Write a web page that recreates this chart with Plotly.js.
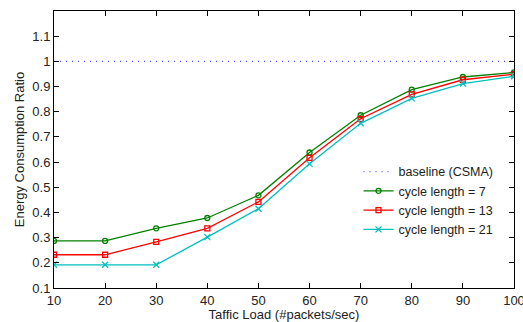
<!DOCTYPE html>
<html><head><meta charset="utf-8">
<script src="https://cdn.plot.ly/plotly-3.0.1.min.js"></script>
<style>body{margin:0;padding:0;background:#fff}#c{width:523px;height:322px}</style>
</head><body><div id="c"></div>
<script>
var load = [10, 20, 30, 40, 50, 60, 70, 80, 90, 100];
var baseline = [1, 1, 1, 1, 1, 1, 1, 1, 1, 1];
var cycle7 = [0.287, 0.287, 0.337, 0.378, 0.468, 0.638, 0.786, 0.888, 0.938, 0.956];
var cycle13 = [0.232, 0.232, 0.283, 0.337, 0.442, 0.617, 0.772, 0.869, 0.927, 0.949];
var cycle21 = [0.192, 0.192, 0.192, 0.302, 0.415, 0.593, 0.754, 0.853, 0.912, 0.941];
var names = ['baseline (CSMA)', 'cycle length = 7', 'cycle length = 13', 'cycle length = 21'];
var yticks = [0.1, 0.2, 0.3, 0.4, 0.5, 0.6, 0.7, 0.8, 0.9, 1, 1.1];

var traces = [
  {x: load, y: baseline, name: names[0], mode: 'lines',
   line: {color: '#4d4dff', width: 1.2, dash: '1px,5px'}},
  {x: load, y: cycle7, name: names[1], mode: 'lines+markers',
   line: {color: '#008000', width: 1.3},
   marker: {symbol: 'circle-open', size: 5, color: '#008000', line: {width: 1.3}}},
  {x: load, y: cycle13, name: names[2], mode: 'lines+markers',
   line: {color: '#ff0000', width: 1.3},
   marker: {symbol: 'square-open', size: 5, color: '#ff0000', line: {width: 1.3}}},
  {x: load, y: cycle21, name: names[3], mode: 'lines+markers',
   line: {color: '#00bfbf', width: 1.3},
   marker: {symbol: 'x-thin-open', size: 6, color: '#00bfbf', line: {width: 1.3, color: '#00bfbf'}}}
];

var layout = {
  width: 523, height: 322,
  margin: {l: 54, r: 9, t: 11, b: 34},
  paper_bgcolor: '#fff', plot_bgcolor: '#fff',
  font: {family: 'Liberation Sans, Arial, sans-serif', size: 13, color: '#222'},
  showlegend: true,
  legend: {x: 0.662, y: 0.473, xanchor: 'left', yanchor: 'top', bgcolor: 'rgba(0,0,0,0)',
           borderwidth: 0, font: {size: 12.5, color: '#222'}, tracegroupgap: 0},
  xaxis: {range: [10, 100], tickvals: load, ticktext: load.map(String),
          ticks: 'inside', ticklen: 5, tickcolor: '#000', showgrid: false, zeroline: false,
          showline: true, linecolor: '#000', linewidth: 1, mirror: 'ticks',
          ticklabeloverflow: 'allow',
          tickfont: {size: 13}, title: {text: 'Taffic Load (#packets/sec)', font: {size: 13}, standoff: 2}},
  yaxis: {range: [0.1, 1.2], tickvals: yticks, ticktext: yticks.map(String),
          ticks: 'inside', ticklen: 5, tickcolor: '#000', showgrid: false, zeroline: false,
          showline: true, linecolor: '#000', linewidth: 1, mirror: 'ticks',
          tickfont: {size: 13}, title: {text: 'Energy Consumption Ratio', font: {size: 13}, standoff: 4}}
};
Plotly.newPlot('c', traces, layout, {displayModeBar: false, staticPlot: true});
</script></body></html>
